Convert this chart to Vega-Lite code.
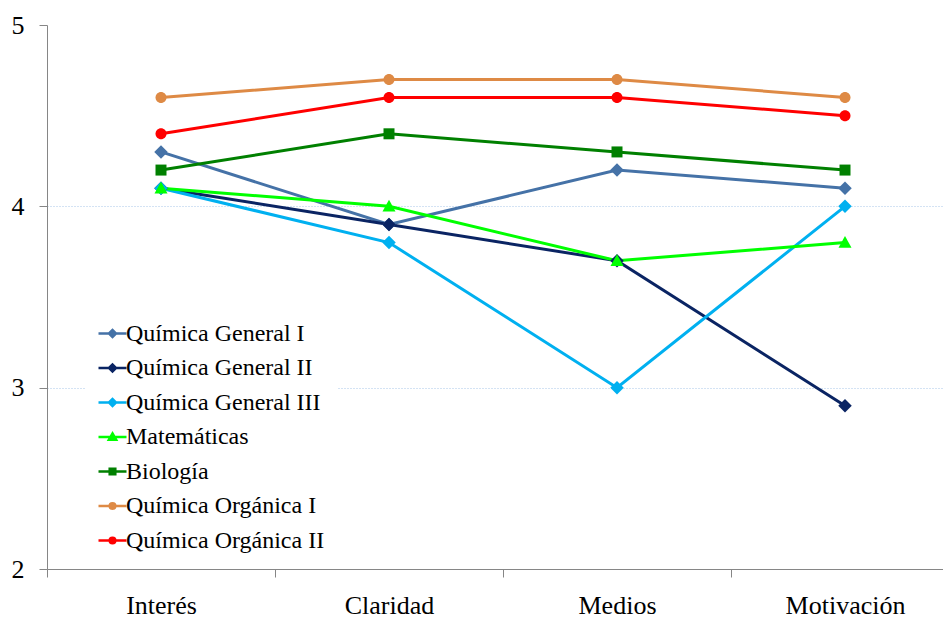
{
  "$schema": "https://vega.github.io/schema/vega-lite/v6.json",
  "width": 896,
  "height": 544,
  "autosize": {"type": "none"},
  "padding": {"left": 47, "top": 25, "right": 0, "bottom": 50},
  "background": "white",
  "config": {
    "view": {"stroke": null},
    "font": "Liberation Serif"
  },
  "data": {
    "values": [
      {"aspecto": "Interés", "asignatura": "Química General I", "valor": 4.3},
      {"aspecto": "Claridad", "asignatura": "Química General I", "valor": 3.9},
      {"aspecto": "Medios", "asignatura": "Química General I", "valor": 4.2},
      {"aspecto": "Motivación", "asignatura": "Química General I", "valor": 4.1},
      {"aspecto": "Interés", "asignatura": "Química General II", "valor": 4.1},
      {"aspecto": "Claridad", "asignatura": "Química General II", "valor": 3.9},
      {"aspecto": "Medios", "asignatura": "Química General II", "valor": 3.7},
      {"aspecto": "Motivación", "asignatura": "Química General II", "valor": 2.9},
      {"aspecto": "Interés", "asignatura": "Química General III", "valor": 4.1},
      {"aspecto": "Claridad", "asignatura": "Química General III", "valor": 3.8},
      {"aspecto": "Medios", "asignatura": "Química General III", "valor": 3.0},
      {"aspecto": "Motivación", "asignatura": "Química General III", "valor": 4.0},
      {"aspecto": "Interés", "asignatura": "Matemáticas", "valor": 4.1},
      {"aspecto": "Claridad", "asignatura": "Matemáticas", "valor": 4.0},
      {"aspecto": "Medios", "asignatura": "Matemáticas", "valor": 3.7},
      {"aspecto": "Motivación", "asignatura": "Matemáticas", "valor": 3.8},
      {"aspecto": "Interés", "asignatura": "Biología", "valor": 4.2},
      {"aspecto": "Claridad", "asignatura": "Biología", "valor": 4.4},
      {"aspecto": "Medios", "asignatura": "Biología", "valor": 4.3},
      {"aspecto": "Motivación", "asignatura": "Biología", "valor": 4.2},
      {"aspecto": "Interés", "asignatura": "Química Orgánica I", "valor": 4.6},
      {"aspecto": "Claridad", "asignatura": "Química Orgánica I", "valor": 4.7},
      {"aspecto": "Medios", "asignatura": "Química Orgánica I", "valor": 4.7},
      {"aspecto": "Motivación", "asignatura": "Química Orgánica I", "valor": 4.6},
      {"aspecto": "Interés", "asignatura": "Química Orgánica II", "valor": 4.4},
      {"aspecto": "Claridad", "asignatura": "Química Orgánica II", "valor": 4.6},
      {"aspecto": "Medios", "asignatura": "Química Orgánica II", "valor": 4.6},
      {"aspecto": "Motivación", "asignatura": "Química Orgánica II", "valor": 4.5}
    ]
  },
  "encoding": {
    "x": {
      "field": "aspecto", "type": "nominal",
      "sort": ["Interés", "Claridad", "Medios", "Motivación"],
      "scale": {"type": "band", "range": [0, 912], "paddingInner": 0, "paddingOuter": 0},
      "axis": {"title": null, "labelAngle": 0, "labelFont": "Liberation Serif", "labelFontSize": 26, "labelColor": "black", "tickBand": "extent", "tickSize": 8, "tickColor": "#868686", "labelPadding": 15, "grid": false, "domainColor": "#868686"}
    },
    "y": {
      "field": "valor", "type": "quantitative",
      "scale": {"domain": [2, 5], "nice": false, "zero": false},
      "axis": {
        "title": null, "values": [2, 3, 4, 5], "labelFont": "Liberation Serif", "labelFontSize": 26, "labelColor": "black", "tickSize": 8, "tickColor": "#868686", "domainColor": "#868686", "labelPadding": 15,
        "grid": true, "gridColor": "#A9C6E8", "gridDash": [1, 2], "gridWidth": 1,
        "gridOpacity": {"condition": {"test": "datum.value == 3 || datum.value == 4", "value": 1}, "value": 0}
      }
    },
    "color": {
      "field": "asignatura", "type": "nominal",
      "scale": {
        "domain": ["Química General I", "Química General II", "Química General III", "Matemáticas", "Biología", "Química Orgánica I", "Química Orgánica II"],
        "range": ["#4572A7", "#0A2463", "#00B0F0", "#00FF00", "#008000", "#DE8A45", "#FF0000"]
      }
    }
  },
  "layer": [
    {
      "mark": {"type": "line", "strokeWidth": 3},
      "encoding": {
        "color": {
          "field": "asignatura", "type": "nominal",
          "legend": {
            "title": null, "orient": "none", "legendX": 38, "legendY": 281,
            "fillColor": "white", "padding": 12,
            "labelFont": "Liberation Serif", "labelFontSize": 24, "labelColor": "black", "labelLimit": 400,
            "symbolSize": 784, "labelOffset": -2, "rowPadding": 6.5,
            "symbolType": "M-1,0H1M-0.25,0L0,-0.25L0.25,0L0,0.25Z",
            "symbolStrokeWidth": 2.5,
            "encode": {
              "symbols": {
                "update": {
                  "shape": {"signal": "['M-1,0H1M-0.25,0L0,-0.25L0.25,0L0,0.25Z','M-1,0H1M-0.25,0L0,-0.25L0.25,0L0,0.25Z','M-1,0H1M-0.25,0L0,-0.25L0.25,0L0,0.25Z','M-1,0H1M0,-0.25L0.26,0.2L-0.26,0.2Z','M-1,0H1M-0.2,-0.2H0.2V0.2H-0.2Z','M-1,0H1M0.2,0A0.2,0.2,0,1,1,-0.2,0A0.2,0.2,0,1,1,0.2,0Z','M-1,0H1M0.2,0A0.2,0.2,0,1,1,-0.2,0A0.2,0.2,0,1,1,0.2,0Z'][indexof(['Química General I','Química General II','Química General III','Matemáticas','Biología','Química Orgánica I','Química Orgánica II'], datum.value)]"},
                  "stroke": {"scale": "color", "field": "value"},
                  "fill": {"scale": "color", "field": "value"},
                  "strokeWidth": {"value": 2.5},
                  "opacity": {"value": 1},
                  "fillOpacity": {"value": 1},
                  "strokeOpacity": {"value": 1}
                }
              }
            }
          }
        }
      }
    },
    {
      "transform": [{"filter": {"field": "asignatura", "oneOf": ["Química General I", "Química General II", "Química General III"]}}],
      "mark": {"type": "point", "filled": true, "size": 100, "opacity": 1, "shape": "M-1.35,0L0,-1.35L1.35,0L0,1.35Z"},
      "encoding": {"color": {"field": "asignatura", "type": "nominal", "legend": null}}
    },
    {
      "transform": [{"filter": {"field": "asignatura", "equal": "Matemáticas"}}],
      "mark": {"type": "point", "filled": true, "size": 100, "opacity": 1, "shape": "M0,-1.3L1.3,1.05L-1.3,1.05Z"},
      "encoding": {"color": {"field": "asignatura", "type": "nominal", "legend": null}}
    },
    {
      "transform": [{"filter": {"field": "asignatura", "equal": "Biología"}}],
      "mark": {"type": "point", "filled": true, "size": 100, "opacity": 1, "shape": "M-1.1,-1.1H1.1V1.1H-1.1Z"},
      "encoding": {"color": {"field": "asignatura", "type": "nominal", "legend": null}}
    },
    {
      "transform": [{"filter": {"field": "asignatura", "oneOf": ["Química Orgánica I", "Química Orgánica II"]}}],
      "mark": {"type": "point", "filled": true, "size": 100, "opacity": 1, "shape": "M1.1,0A1.1,1.1,0,1,1,-1.1,0A1.1,1.1,0,1,1,1.1,0Z"},
      "encoding": {"color": {"field": "asignatura", "type": "nominal", "legend": null}}
    }
  ]
}
